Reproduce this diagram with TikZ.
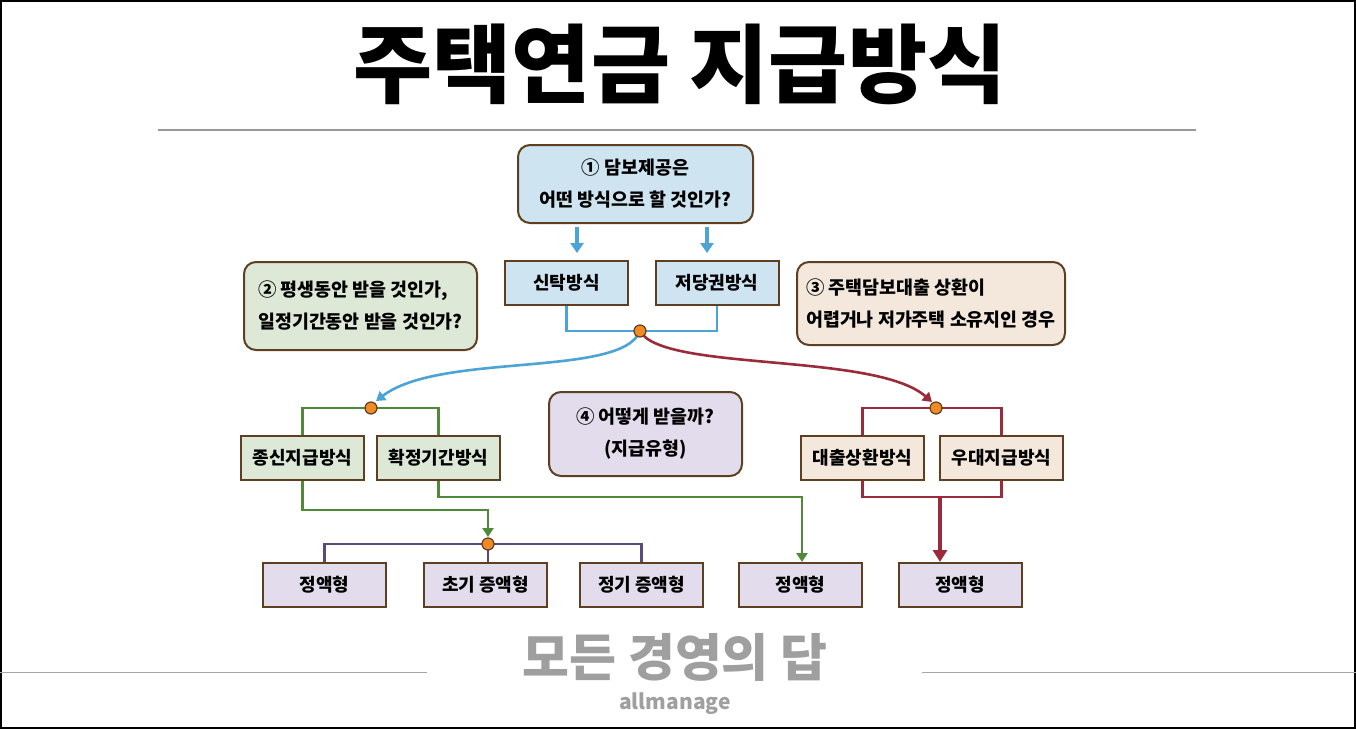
\documentclass[tikz,border=0pt]{standalone}
\usepackage{fontspec}
\setmainfont{Noto Sans CJK KR}
\usetikzlibrary{arrows.meta}

\definecolor{edgebrown}{HTML}{5E3F22}
\definecolor{qblue}{HTML}{CFE4F1}
\definecolor{qgreen}{HTML}{DDE9D6}
\definecolor{qbeige}{HTML}{F3E8DB}
\definecolor{qpurple}{HTML}{E3DCEC}
\definecolor{lblue}{HTML}{4BA3D6}
\definecolor{lgreen}{HTML}{4E8A3A}
\definecolor{lred}{HTML}{992B3A}
\definecolor{lpurple}{HTML}{5A4A7C}
\definecolor{dotorange}{HTML}{F08A24}

\tikzset{
  sqbox/.style={draw=edgebrown, line width=1pt, minimum width=61.5pt, minimum height=22pt,
    inner sep=0pt, font=\bfseries\fontsize{9}{11}\selectfont},
  rbox/.style={draw=edgebrown, line width=1pt, rounded corners=6pt, inner sep=0pt,
    align=center, font=\bfseries\fontsize{9.2}{16}\selectfont},
  dot/.style={circle, fill=dotorange, draw=edgebrown, line width=0.6pt, minimum size=6pt, inner sep=0pt},
  bline/.style={draw=lblue, line width=1.3pt},
  gline/.style={draw=lgreen, line width=1.3pt},
  rline/.style={draw=lred, line width=1.3pt},
  pline/.style={draw=lpurple, line width=1.3pt},
  tip/.style={-{Triangle[length=4.5pt,width=5.5pt]}},
}

\begin{document}
\begin{tikzpicture}[x=0.5pt,y=-0.5pt]
  %%%%% START %%%%%
  \useasboundingbox (0,0) rectangle (1356,729);
  \draw[line width=0.9pt] (1,1) rectangle (1355,728);

  % title
  \node (title) at (680,64) {\bfseries\fontsize{43}{46}\selectfont 주택연금 지급방식};
  \draw[gray!80, line width=0.6pt] (158,130) -- (1196,130);

  % questions
  \node[rbox, fill=qblue, minimum width=117.5pt, minimum height=39pt] (q1) at (635.5,184)
    {① 담보제공은\\어떤 방식으로 할 것인가?};
  \node[rbox, fill=qgreen, minimum width=116.5pt, minimum height=44pt, align=left] (q2) at (360.5,306)
    {② 평생동안 받을 것인가,\\일정기간동안 받을 것인가?};
  \node[rbox, fill=qbeige, minimum width=134pt, minimum height=41.5pt, align=left] (q3) at (931,303.5)
    {③ 주택담보대출 상환이\\어렵거나 저가주택 소유지인 경우};
  \node[rbox, fill=qpurple, minimum width=96.5pt, minimum height=42pt] (q4) at (645.5,434)
    {④ 어떻게 받을까?\\(지급유형)};

  % guarantee
  \node[sqbox, fill=qblue] (trust) at (566.5,283) {신탁방식};
  \node[sqbox, fill=qblue] (mort) at (717,283) {저당권방식};

  % period
  \node[sqbox, fill=qgreen] (life) at (302.5,458) {종신지급방식};
  \node[sqbox, fill=qgreen] (fixed) at (438.5,458) {확정기간방식};

  % special
  \node[sqbox, fill=qbeige] (loan) at (862.5,458) {대출상환방식};
  \node[sqbox, fill=qbeige] (pref) at (1001.5,458) {우대지급방식};

  % payment types
  \node[sqbox, fill=qpurple] (b1) at (324.5,585) {정액형};
  \node[sqbox, fill=qpurple] (b2) at (485.5,585) {초기 증액형};
  \node[sqbox, fill=qpurple] (b3) at (641.5,585) {정기 증액형};
  \node[sqbox, fill=qpurple] (b4) at (800.5,585) {정액형};
  \node[sqbox, fill=qpurple] (b5) at (960,585) {정액형};

  \coordinate (j1) at (640,331);
  \coordinate (j2) at (371,408);
  \coordinate (j3) at (936,408);
  \coordinate (j4) at (488,544);
  \coordinate (g1) at (488,510);
  \coordinate (g2) at (802,497);
  \coordinate (r1) at (940,497);

  % connectors
  \draw[bline, -{Triangle[length=5pt,width=6.5pt]}, line width=1.8pt, shorten <=1.5pt, shorten >=3.5pt]
    ([xshift=5.25pt]trust.north |- q1.south) -- ([xshift=5.25pt]trust.north);
  \draw[bline, -{Triangle[length=5pt,width=6.5pt]}, line width=1.8pt, shorten <=1.5pt, shorten >=3.5pt]
    ([xshift=-5pt]mort.north |- q1.south) -- ([xshift=-5pt]mort.north);
  \draw[bline] (trust.south) |- (j1) -| (mort.south);

  \draw[bline, tip] (j1) .. controls (622,378) and (440,352) .. (376,401);
  \draw[rline, tip] (j1) .. controls (662,372) and (875,352) .. (932,402);

  \draw[gline] (life.north) |- (j2) -| (fixed.north);
  \draw[rline] (loan.north) |- (j3) -| (pref.north);
  \draw[rline] (loan.south) |- (r1) -| (pref.south);
  \draw[draw=lred, line width=2.2pt, -{Triangle[length=6pt,width=7pt]}] (r1) -- (r1 |- b5.north);

  \draw[gline, tip, shorten >=3.5pt] (life.south) |- (g1) -- (j4);
  \draw[gline, tip] (fixed.south) |- (g2) -- (g2 |- b4.north);

  \draw[pline] (b1.north) |- (j4) -| (b3.north);
  \draw[pline] (j4) -- (j4 |- b2.north);

  \node[dot] at (j1) {};
  \node[dot] at (j2) {};
  \node[dot] at (j3) {};
  \node[dot] at (j4) {};

  % footer
  \draw[gray!70, line width=0.5pt] (0,672) -- (427,672);
  \draw[gray!70, line width=0.5pt] (922,672) -- (1356,672);
  \node[text=gray!75] (foot) at (675,657) {\bfseries\fontsize{25.5}{28}\selectfont 모든 경영의 답};
  \node[text=gray!75] (site) at (675,704) {\bfseries\fontsize{10.5}{12}\selectfont allmanage};
  %%%%% END %%%%%
\end{tikzpicture}
\end{document}
